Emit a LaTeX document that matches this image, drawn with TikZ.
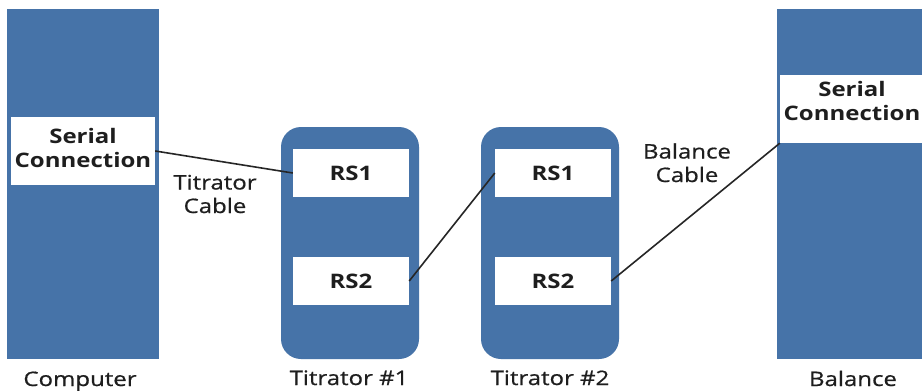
\documentclass[tikz,border=0pt]{standalone}
\usepackage{fontspec}
\setmainfont{Open Sans}[FakeStretch=1.2]
\newfontfamily\lblfont{Open Sans}[FakeStretch=1.2,FakeBold=0.6]
\definecolor{devblue}{HTML}{4673A8}
\definecolor{txt}{HTML}{1E1E1E}
\begin{document}
\begin{tikzpicture}[x=1pt,y=-1pt,
  bar/.style={fill=devblue,draw=none,rectangle,inner sep=0pt},
  unit/.style={fill=devblue,draw=none,rounded corners=20pt,inner sep=0pt,minimum width=138pt,minimum height=232pt},
  port/.style={fill=white,draw=none,inner sep=0pt,minimum width=116pt,minimum height=48pt,font=\fontsize{20}{24}\selectfont\bfseries,text=txt},
  boxw/.style={fill=white,draw=none,inner sep=0pt,minimum height=68pt},
  sertxt/.style={font=\fontsize{20}{24}\selectfont\bfseries,text=txt,align=center,inner sep=0pt},
  lbl/.style={font=\lblfont\fontsize{20}{23.5}\selectfont,text=txt,align=center,inner sep=0pt},
  cable/.style={draw=black!85,line width=1.6pt}]
\clip (0,0) rectangle (922,391);
\fill[white] (0,0) rectangle (922,391);
% Computer
\node[bar,minimum width=152pt,minimum height=350pt] (comp) at (83,184) {};
\node[boxw,minimum width=144pt] (cs) at (83,151) {};
\node[sertxt,anchor=base] (cst) at (83,167) {Serial\\Connection};
\node[lbl,anchor=base] (compl) at (80,386) {Computer};
% Titrator 1
\node[unit] (t1) at (350,243) {};
\node[port] (t1a) at (351,173) {RS1};
\node[port] (t1b) at (351,281) {RS2};
\node[lbl,anchor=base] (t1l) at (349,385) {Titrator \#1};
% Titrator 2
\node[unit] (t2) at (550,243) {};
\node[port] (t2a) at (553,173) {RS1};
\node[port] (t2b) at (553,281) {RS2};
\node[lbl,anchor=base] (t2l) at (550,385) {Titrator \#2};
% Balance
\node[bar,minimum width=160pt,minimum height=350pt] (bal) at (857,184) {};
\node[boxw,minimum width=150pt] (bs) at (855,109) {};
\node[sertxt,anchor=base] (bst) at (852,120) {Serial\\Connection};
\node[lbl,anchor=base] (ball) at (853,386) {Balance};
% Cables
\draw[cable] (cs.east) -- (t1a.west);
\draw[cable] (t1b.east) -- (t2a.west);
\draw[cable] (t2b.east) -- (bs.south west);
\node[lbl,anchor=base] (tc) at (215,213) {Titrator\\Cable};
\node[lbl,anchor=base] (bc) at (687,182) {Balance\\Cable};
\end{tikzpicture}
\end{document}
